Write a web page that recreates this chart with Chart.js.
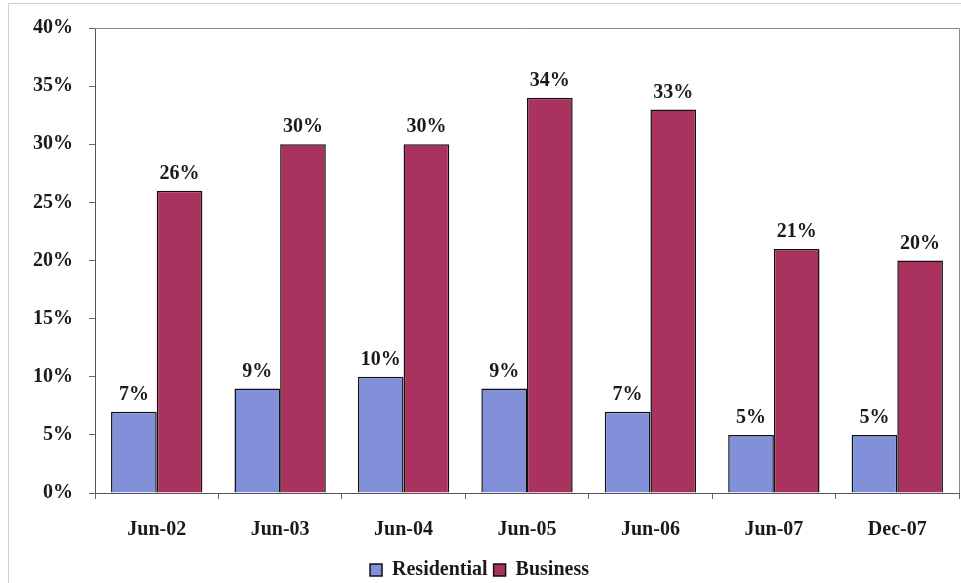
<!DOCTYPE html>
<html>
<head>
<meta charset="utf-8">
<script src="https://cdn.jsdelivr.net/npm/chart.js@4/dist/chart.umd.min.js"></script>
<style>
  html, body { margin: 0; padding: 0; background: #fff; }
  #wrap { width: 961px; height: 583px; position: relative; }
</style>
</head>
<body>
<div id="wrap"><canvas id="chart"></canvas></div>
<script>
const periods = ['Jun-02', 'Jun-03', 'Jun-04', 'Jun-05', 'Jun-06', 'Jun-07', 'Dec-07'];
const residential = [7, 9, 10, 9, 7, 5, 5];
const business = [26, 30, 30, 34, 33, 21, 20];

const serif = '"Liberation Serif", "Times New Roman", serif';
const textFont = { family: serif, size: 20, weight: 'bold' };

// percentage labels above each bar
const barLabels = {
  id: 'barLabels',
  afterDatasetsDraw(chart) {
    const { ctx } = chart;
    ctx.save();
    ctx.font = `bold 20px ${serif}`;
    ctx.fillStyle = '#1a1a1a';
    ctx.textAlign = 'center';
    ctx.textBaseline = 'bottom';
    chart.data.datasets.forEach((ds, i) => {
      chart.getDatasetMeta(i).data.forEach((bar, j) => {
        ctx.fillText(ds.data[j] + '%', bar.x, bar.y - 7);
      });
    });
    ctx.restore();
  }
};

// plot frame on top/right plus the faint outer border
const frame = {
  id: 'frame',
  beforeDraw(chart) {
    const { ctx } = chart;
    ctx.save();
    ctx.strokeStyle = '#cfcfcf';
    ctx.lineWidth = 1;
    ctx.beginPath();
    ctx.moveTo(8.5, 583);
    ctx.lineTo(8.5, 3.5);
    ctx.lineTo(961, 3.5);
    ctx.stroke();
    ctx.restore();
  },
  afterDraw(chart) {
    const { ctx, chartArea: a } = chart;
    ctx.save();
    ctx.strokeStyle = '#8a8a8a';
    ctx.lineWidth = 1;
    ctx.beginPath();
    ctx.moveTo(a.left, Math.round(a.top) + 0.5);
    ctx.lineTo(Math.round(a.right) + 0.5, Math.round(a.top) + 0.5);
    ctx.lineTo(Math.round(a.right) + 0.5, a.bottom);
    ctx.stroke();
    ctx.restore();
  }
};

new Chart(document.getElementById('chart'), {
  type: 'bar',
  data: {
    labels: periods,
    datasets: [{
      label: 'Residential',
      data: residential,
      backgroundColor: '#8290da',
      borderColor: '#111',
      borderWidth: 1.5,
    }, {
      label: 'Business',
      data: business,
      backgroundColor: '#aa325f',
      borderColor: '#111',
      borderWidth: 1.5,
    }],
  },
  options: {
    responsive: true,
    maintainAspectRatio: false,
    animation: false,
    layout: { padding: { top: 24, right: 2, left: 0, bottom: -7 } },
    datasets: {
      bar: { categoryPercentage: 0.74, barPercentage: 1 },
    },
    plugins: {
      legend: {
        position: 'bottom',
        labels: {
          boxWidth: 12,
          boxHeight: 12,
          padding: 6,
          color: '#1a1a1a',
          font: textFont,
        },
      },
      tooltip: { enabled: false },
    },
    scales: {
      x: {
        afterFit(scale) { scale.height = 61; },
        grid: { display: true, drawOnChartArea: false, tickLength: 6, color: '#666' },
        border: { color: '#555' },
        ticks: {
          padding: 19,
          color: '#1a1a1a',
          font: textFont,
        },
      },
      y: {
        min: 0,
        max: 40,
        afterFit(scale) { scale.width = 95; },
        grid: { display: true, drawOnChartArea: false, tickLength: 6, color: '#666' },
        border: { color: '#555' },
        ticks: {
          stepSize: 5,
          padding: 16,
          color: '#1a1a1a',
          font: textFont,
          callback: (v) => v + '%',
        },
      },
    },
  },
  plugins: [barLabels, frame],
});
</script>
</body>
</html>
